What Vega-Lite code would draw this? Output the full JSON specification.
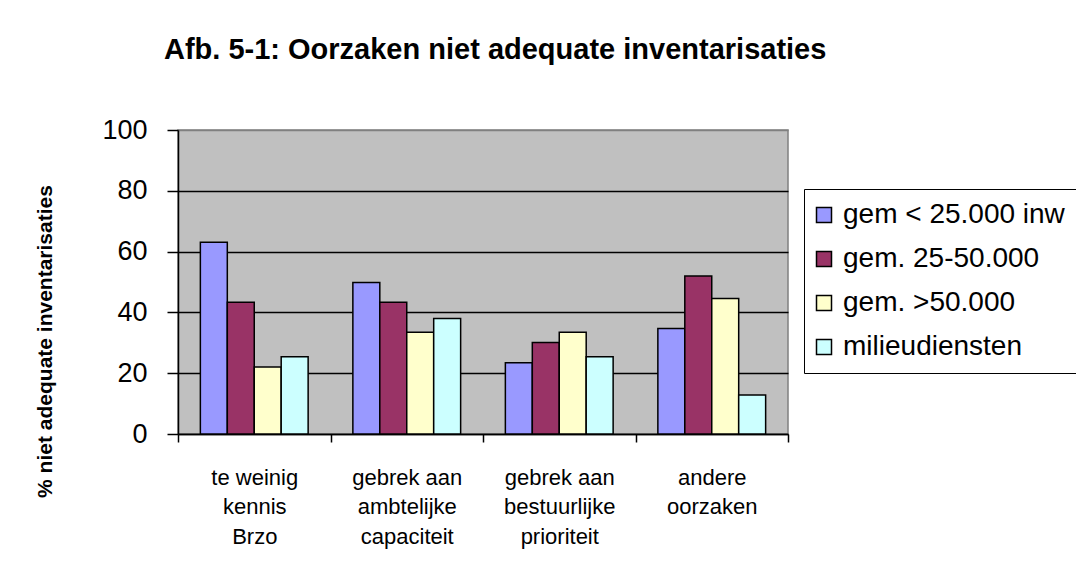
{
  "$schema": "https://vega.github.io/schema/vega-lite/v6.json",
  "width": 610,
  "height": 304,
  "autosize": {"type": "none"},
  "padding": {"left": 178, "top": 130, "right": 288, "bottom": 133},
  "background": "white",
  "title": {
    "text": "Afb. 5-1: Oorzaken niet adequate inventarisaties",
    "anchor": "start",
    "frame": "group",
    "dx": -14,
    "offset": 28,
    "baseline": "alphabetic",
    "fontSize": 29,
    "fontWeight": "bold",
    "font": "Liberation Sans",
    "color": "black"
  },
  "data": {
    "values": [
      {"oorzaak": "te weinig|kennis|Brzo", "groep": "gem < 25.000 inw", "pct": 63.1},
      {"oorzaak": "te weinig|kennis|Brzo", "groep": "gem. 25-50.000", "pct": 43.3},
      {"oorzaak": "te weinig|kennis|Brzo", "groep": "gem. >50.000", "pct": 22.0},
      {"oorzaak": "te weinig|kennis|Brzo", "groep": "milieudiensten", "pct": 25.4},
      {"oorzaak": "gebrek aan|ambtelijke|capaciteit", "groep": "gem < 25.000 inw", "pct": 49.8},
      {"oorzaak": "gebrek aan|ambtelijke|capaciteit", "groep": "gem. 25-50.000", "pct": 43.3},
      {"oorzaak": "gebrek aan|ambtelijke|capaciteit", "groep": "gem. >50.000", "pct": 33.5},
      {"oorzaak": "gebrek aan|ambtelijke|capaciteit", "groep": "milieudiensten", "pct": 38.0},
      {"oorzaak": "gebrek aan|bestuurlijke|prioriteit", "groep": "gem < 25.000 inw", "pct": 23.4},
      {"oorzaak": "gebrek aan|bestuurlijke|prioriteit", "groep": "gem. 25-50.000", "pct": 30.1},
      {"oorzaak": "gebrek aan|bestuurlijke|prioriteit", "groep": "gem. >50.000", "pct": 33.5},
      {"oorzaak": "gebrek aan|bestuurlijke|prioriteit", "groep": "milieudiensten", "pct": 25.4},
      {"oorzaak": "andere|oorzaken", "groep": "gem < 25.000 inw", "pct": 34.7},
      {"oorzaak": "andere|oorzaken", "groep": "gem. 25-50.000", "pct": 52.0},
      {"oorzaak": "andere|oorzaken", "groep": "gem. >50.000", "pct": 44.6},
      {"oorzaak": "andere|oorzaken", "groep": "milieudiensten", "pct": 12.8}
    ]
  },
  "mark": {"type": "bar", "stroke": "black", "strokeWidth": 1.5},
  "encoding": {
    "x": {
      "field": "oorzaak",
      "type": "nominal",
      "sort": null,
      "scale": {"paddingInner": 0, "paddingOuter": 0},
      "axis": {
        "title": null,
        "labelAngle": 0,
        "labelExpr": "datum.value ? split(datum.value, '|') : ''",
        "labelFontSize": 22,
        "labelLineHeight": 29.5,
        "labelPadding": 25,
        "labelColor": "black",
        "tickBand": "extent",
        "tickSize": 8,
        "tickColor": "black",
        "tickWidth": 1.5,
        "domainColor": "black",
        "domainWidth": 1.5,
        "labelBaseline": "top"
      }
    },
    "xOffset": {
      "field": "groep",
      "type": "nominal",
      "sort": null,
      "scale": {"paddingInner": 0, "paddingOuter": 0.83}
    },
    "y": {
      "field": "pct",
      "type": "quantitative",
      "scale": {"domain": [0, 100]},
      "axis": {
        "title": "% niet adequate inventarisaties",
        "titleFontSize": 21,
        "titleFontWeight": "bold",
        "titleColor": "black",
        "titleX": -133,
        "titleY": 211,
        "titleAngle": -90,
        "titleAlign": "center",
        "titleBaseline": "middle",
        "values": [0, 20, 40, 60, 80, 100],
        "labelFontSize": 27,
        "labelColor": "black",
        "labelPadding": 20,
        "tickSize": 11,
        "tickColor": "black",
        "tickWidth": 1.5,
        "domainColor": "black",
        "domainWidth": 1.5,
        "grid": true,
        "gridColor": {"condition": {"test": "datum.value == 100", "value": "#808080"}, "value": "black"},
        "gridWidth": 1.5
      }
    },
    "color": {
      "field": "groep",
      "type": "nominal",
      "sort": null,
      "scale": {
        "domain": ["gem < 25.000 inw", "gem. 25-50.000", "gem. >50.000", "milieudiensten"],
        "range": ["#9999FF", "#993366", "#FFFFCC", "#CCFFFF"]
      },
      "legend": {
        "orient": "none",
        "legendX": 626,
        "legendY": 59,
        "title": null,
        "strokeColor": "black",
        "fillColor": "white",
        "padding": 12,
        "symbolType": "square",
        "symbolSize": 225,
        "symbolOffset": -6,
        "symbolStrokeColor": "black",
        "symbolStrokeWidth": 1.5,
        "labelFontSize": 28,
        "labelColor": "black",
        "labelOffset": 5,
        "labelLimit": 0,
        "rowPadding": 16
      }
    }
  },
  "config": {
    "font": "Liberation Sans",
    "view": {"fill": "#C0C0C0", "stroke": "#808080", "strokeWidth": 1.5}
  }
}
